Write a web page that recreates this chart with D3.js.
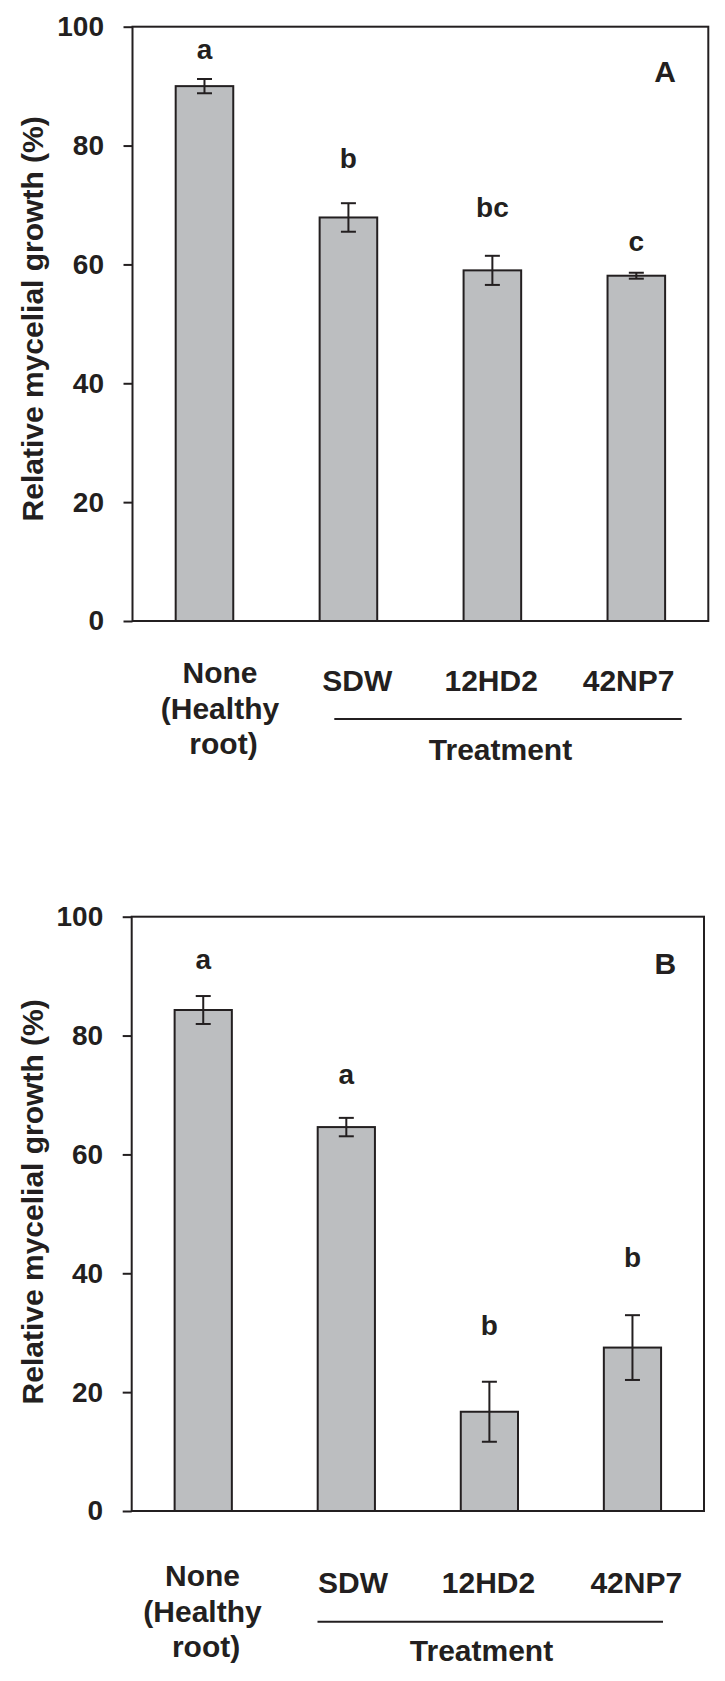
<!DOCTYPE html>
<html>
<head>
<meta charset="utf-8">
<script src="https://cdn.jsdelivr.net/npm/d3@7"></script>
<style>
  html, body { margin: 0; padding: 0; background: #ffffff; }
  svg text { font-family: "Liberation Sans", Arial, Helvetica, sans-serif; font-weight: bold; fill: #231f20; }
</style>
</head>
<body>
<svg id="chart" width="725" height="1681"></svg>
<script>
// ---------- data ----------
const categories = ["None (Healthy root)", "SDW", "12HD2", "42NP7"];
const noneLines = ["None", "(Healthy", "root)"];
const yTicks = [0, 20, 40, 60, 80, 100];
const yTitle = "Relative mycelial growth (%)";
const groupTitle = "Treatment";

const valuesA = [90.0, 67.9, 59.0, 58.1];
const errorsA = [1.2, 2.4, 2.45, 0.5];
const lettersA = ["a", "b", "bc", "c"];
const letterAtA = [94.6, 76.3, 68.0, 62.2];

const valuesB = [84.3, 64.6, 16.7, 27.5];
const errorsB = [2.35, 1.55, 5.05, 5.45];
const lettersB = ["a", "a", "b", "b"];
const letterAtB = [91.2, 71.8, 29.6, 41.1];

// ---------- layout ----------
const INK = "#231f20";
const BAR = "#bcbec0";
const panels = [
  { tag: "A", values: valuesA, errors: errorsA, letters: lettersA, letterAt: letterAtA,
    top: 26.7, bottom: 621, left: 132.5, right: 708.3,
    labelDx: [15.5, 8.8, -1.2, -7.7], noneDy: 62.3, treatDy: 69.7, lineDy: 98,
    lineX: [334.3, 681.7], groupX: 500.5, groupDy: 138.5, titleShift: -5,
    tagX: 665, tagY: 81.7 },
  { tag: "B", values: valuesB, errors: errorsB, letters: lettersB, letterAt: letterAtB,
    top: 916.7, bottom: 1511, left: 131.7, right: 704,
    labelDx: [-0.7, 6.7, -0.9, 3.8], noneDy: 75, treatDy: 81.7, lineDy: 110.7,
    lineX: [317.5, 663], groupX: 481.5, groupDy: 150, titleShift: -12,
    tagX: 665.3, tagY: 974.4 }
];

const svg = d3.select("#chart");

panels.forEach(p => {
  const g = svg.append("g");
  const y = d3.scaleLinear().domain([0, 100]).range([p.bottom, p.top]);
  const x = d3.scaleBand().domain(categories).range([p.left, p.right])
    .paddingInner(0.6).paddingOuter(0.3);
  const rows = categories.map((c, i) => ({ c, v: p.values[i], e: p.errors[i], l: p.letters[i], la: p.letterAt[i], dx: p.labelDx[i] }));

  // bars
  g.selectAll("rect.bar").data(rows).join("rect")
    .attr("class", "bar")
    .attr("x", d => x(d.c)).attr("width", x.bandwidth())
    .attr("y", d => y(d.v)).attr("height", d => y(0) - y(d.v))
    .attr("fill", BAR).attr("stroke", INK).attr("stroke-width", 2);

  // error bars
  const capW = 7.5;
  const eb = g.selectAll("g.err").data(rows).join("g").attr("class", "err")
    .attr("stroke", INK).attr("stroke-width", 2);
  eb.append("line")
    .attr("x1", d => x(d.c) + x.bandwidth() / 2).attr("x2", d => x(d.c) + x.bandwidth() / 2)
    .attr("y1", d => y(d.v + d.e)).attr("y2", d => y(d.v - d.e));
  eb.append("line")
    .attr("x1", d => x(d.c) + x.bandwidth() / 2 - capW).attr("x2", d => x(d.c) + x.bandwidth() / 2 + capW)
    .attr("y1", d => y(d.v + d.e)).attr("y2", d => y(d.v + d.e));
  eb.append("line")
    .attr("x1", d => x(d.c) + x.bandwidth() / 2 - capW).attr("x2", d => x(d.c) + x.bandwidth() / 2 + capW)
    .attr("y1", d => y(d.v - d.e)).attr("y2", d => y(d.v - d.e));

  // significance letters
  g.selectAll("text.sig").data(rows).join("text")
    .attr("class", "sig")
    .attr("x", d => x(d.c) + x.bandwidth() / 2).attr("y", d => y(d.la))
    .attr("text-anchor", "middle").style("font-size", "28px")
    .text(d => d.l);

  // frame
  g.append("rect")
    .attr("x", p.left).attr("y", p.top)
    .attr("width", p.right - p.left).attr("height", p.bottom - p.top)
    .attr("fill", "none").attr("stroke", INK).attr("stroke-width", 2);

  // y axis
  const ax = g.append("g").attr("transform", `translate(${p.left},0)`)
    .call(d3.axisLeft(y).tickValues(yTicks).tickSize(9).tickPadding(19.5).tickFormat(d3.format("d")));
  ax.select(".domain").remove();
  ax.selectAll(".tick line").attr("stroke", INK).attr("stroke-width", 2);
  ax.selectAll(".tick text").attr("fill", INK).style("font-size", "28px")
    .style("font-family", "'Liberation Sans', Arial, sans-serif").style("font-weight", "bold");

  // y title
  g.append("text")
    .attr("transform", `translate(43.3,${(p.top + p.bottom) / 2 + p.titleShift}) rotate(-90)`)
    .attr("text-anchor", "middle").style("font-size", "30px")
    .text(yTitle);

  // category labels
  const first = rows[0];
  const noneT = g.append("text")
    .attr("text-anchor", "middle").style("font-size", "30px");
  noneLines.forEach((ln, k) => {
    noneT.append("tspan")
      .attr("x", x(first.c) + x.bandwidth() / 2 + first.dx + (k === 2 ? 3.5 : 0))
      .attr("y", p.bottom + p.noneDy + k * 35.5)
      .text(ln);
  });
  g.selectAll("text.cat").data(rows.slice(1)).join("text")
    .attr("class", "cat")
    .attr("x", d => x(d.c) + x.bandwidth() / 2 + d.dx)
    .attr("y", p.bottom + p.treatDy)
    .attr("text-anchor", "middle").style("font-size", "30px")
    .text(d => d.c);

  // treatment group line and title
  g.append("line")
    .attr("x1", p.lineX[0]).attr("x2", p.lineX[1])
    .attr("y1", p.bottom + p.lineDy).attr("y2", p.bottom + p.lineDy)
    .attr("stroke", INK).attr("stroke-width", 2);
  g.append("text")
    .attr("x", p.groupX).attr("y", p.bottom + p.groupDy)
    .attr("text-anchor", "middle").style("font-size", "30px")
    .text(groupTitle);

  // panel tag
  g.append("text")
    .attr("x", p.tagX).attr("y", p.tagY)
    .attr("text-anchor", "middle").style("font-size", "30px")
    .text(p.tag);
});
</script>
</body>
</html>
